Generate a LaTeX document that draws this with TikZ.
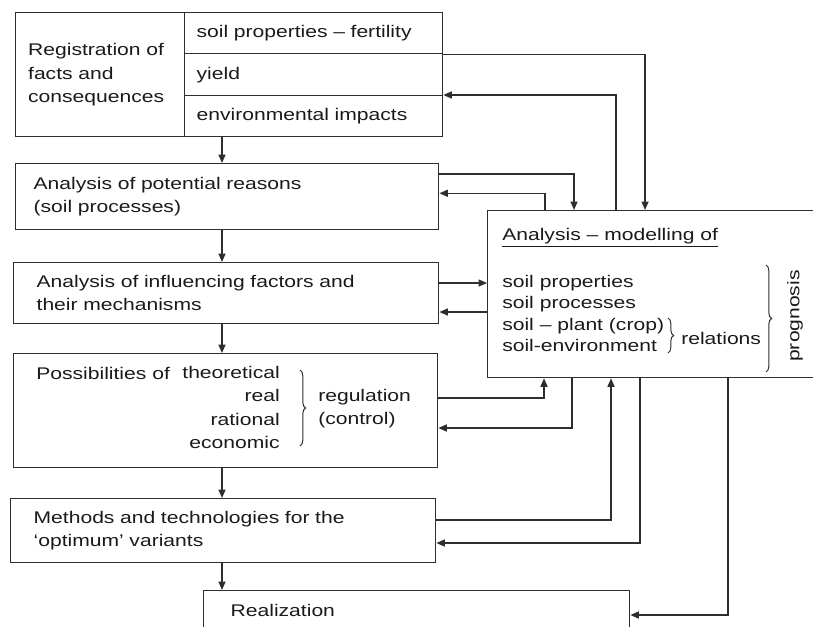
\documentclass[tikz,border=0pt]{standalone}
\usepackage{fontspec}
\setmainfont{Liberation Sans}[FakeStretch=1.25]
\usepackage{xcolor}
\usepackage{tikz}
\usetikzlibrary{arrows.meta,calc,decorations.pathreplacing}
\definecolor{linec}{HTML}{2E2E2E}
\definecolor{textc}{HTML}{1A1A1A}

\begin{document}
\begin{tikzpicture}[x=0.025cm, y=-0.025cm, font=\fontsize{12pt}{16.5pt}\selectfont, text=textc,
  box/.style={draw=linec, line width=0.9pt, anchor=north west, align=left, inner ysep=0pt},
  lbl/.style={inner sep=0pt},
  flow/.style={draw=linec, line width=0.9pt, -{Triangle[length=6pt, width=5pt]}},
  curly/.style={draw=linec, line width=0.7pt, decorate, decoration={brace, amplitude=4pt}}]
  \useasboundingbox (0,0) rectangle (813,626);

  % Registration block
  \node[box, text width=3.6cm, inner xsep=0.3125cm, minimum height=3.1cm] (regist) at (15,12) {Registration of\\facts and\\consequences};
  \node[box, text width=5.85cm, inner xsep=0.3cm, minimum height=1.025cm] (fert) at (184,12) {soil properties – fertility};
  \node[box, text width=5.85cm, inner xsep=0.3cm, minimum height=1.05cm] (yield) at (184,53) {yield};
  \node[box, text width=5.85cm, inner xsep=0.3cm, minimum height=1.025cm] (env) at (184,95) {environmental impacts};

  % Left column
  \node[box, text width=9.675cm, inner xsep=0.45cm, minimum height=1.65cm] (reasons) at (15,163) {Analysis of potential reasons\\(soil processes)};
  \node[box, text width=9.475cm, inner xsep=0.575cm, minimum height=1.525cm] (factors) at (13,262) {Analysis of influencing factors and\\their mechanisms};
  \node[box, minimum width=10.6cm, minimum height=2.85cm] (possib) at (13,353) {};
  \node[box, text width=9.475cm, inner xsep=0.575cm, minimum height=1.6cm] (methods) at (10,498) {Methods and technologies for the\\‘optimum’ variants};
  \node[box, text width=9.3cm, inner xsep=0.675cm, minimum height=1.0cm] (realiz) at (203,590) {Realization};

  % Possibilities of regulation
  \node[lbl, anchor=west] (possof) at (36,373) {Possibilities of};
  \node[lbl, anchor=east, align=right] (levels) at (280,407.5) {theoretical\\real\\rational\\economic};
  \draw[curly] (300,370) -- (300,446);
  \node[lbl, anchor=west, align=left] (regul) at (318,408.5) {regulation\\(control)};

  % Modelling block
  \node[box, minimum width=8.575cm, minimum height=4.175cm] (model) at (487,210) {};
  \node[lbl, anchor=west] (mhead) at (502,238) {\underline{Analysis – modelling of}};
  \node[lbl, anchor=west, align=left, font=\fontsize{12pt}{15pt}\selectfont] (mlist) at (502,313.5) {soil properties\\soil processes\\soil – plant (crop)\\soil-environment};
  \draw[curly] (668,318) -- (668,353);
  \node[lbl, anchor=west] (relat) at (681,338) {relations};
  \draw[curly] (766,265) -- (766,372);
  \node[lbl, rotate=90] (progn) at (795,316) {prognosis};

  % Main sequence
  \coordinate (spine) at (222,0);
  \draw[flow] (spine |- env.south) -- (spine |- reasons.north);
  \draw[flow] (spine |- reasons.south) -- (spine |- factors.north);
  \draw[flow] (spine |- factors.south) -- (spine |- possib.north);
  \draw[flow] (spine |- possib.south) -- (spine |- methods.north);
  \draw[flow] (spine |- methods.south) -- (spine |- realiz.north);

  % Feedback to and from modelling
  \draw[flow] (fert.south east) -| ([xshift=3.95cm]model.north west);
  \draw[flow] ([xshift=3.225cm]model.north west) |- (env.north east);
  \draw[flow] ([yshift=-0.275cm]reasons.north east) -| ([xshift=2.175cm]model.north west);
  \draw[flow] ([xshift=1.45cm]model.north west) |- ([yshift=0.925cm]reasons.south east);
  \coordinate (f1) at ([yshift=-0.525cm]factors.north east);
  \coordinate (f2) at ([yshift=-1.25cm]factors.north east);
  \draw[flow] (f1) -- (f1 -| model.west);
  \draw[flow] (f2 -| model.west) -- (f2);
  \draw[flow] ([yshift=-1.125cm]possib.north east) -| ([xshift=1.425cm]model.south west);
  \draw[flow] ([xshift=2.125cm]model.south west) |- ([yshift=-1.875cm]possib.north east);
  \draw[flow] ([yshift=-0.55cm]methods.north east) -| ([xshift=3.1cm]model.south west);
  \draw[flow] ([xshift=3.825cm]model.south west) |- ([yshift=-1.125cm]methods.north east);
  \draw[flow] ([xshift=6.025cm]model.south west) |- ([yshift=-0.625cm]realiz.north east);
\end{tikzpicture}
\end{document}
